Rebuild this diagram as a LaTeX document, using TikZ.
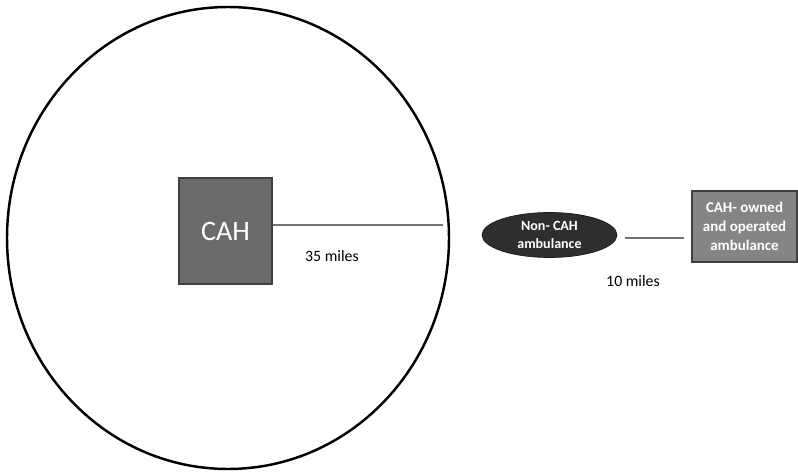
\documentclass[tikz,border=0pt]{standalone}
\usepackage{fontspec}
\setmainfont{Carlito}
\usetikzlibrary{shapes.geometric}

\begin{document}
\begin{tikzpicture}[x=0.02cm,y=-0.02cm,
  hospital/.style={draw=black!75,fill=black!58,line width=1.2pt,minimum width=1.86cm,minimum height=2.12cm,text=white,font=\fontsize{16}{18}\selectfont},
  otheramb/.style={ellipse,fill=black!82,draw=black!90,minimum width=2.7cm,minimum height=0.9cm,inner sep=0pt,text=white,align=center,font=\bfseries\fontsize{8}{10}\selectfont},
  ownamb/.style={draw=black!75,fill=black!48,line width=1pt,minimum width=2.1cm,minimum height=1.42cm,inner sep=1pt,text=white,align=center,font=\bfseries\fontsize{8.5}{10.8}\selectfont},
  milelabel/.style={font=\fontsize{9}{11}\selectfont},
  link/.style={black!55,line width=0.9pt}]

% fix the margins
\useasboundingbox (0,0) rectangle (798,473);

% draw service area
\draw[line width=1.4pt] (228,238) ellipse [x radius=221, y radius=231];

% add nodes
\node[hospital] (cah) at (225.5,231) {CAH};
\coordinate (rim) at (443,225);
\node[otheramb] (noncah) at (549.5,235) {Non- CAH\\ambulance};
\node[ownamb] (owned) at (744.5,226.5) {CAH- owned\\and operated\\ambulance};
\coordinate (n1) at (625,238);
\coordinate (n2) at (684,238);

% draw links
\draw[link] (cah.east |- rim) -- (rim);
\draw[link] (n1) -- (n2);

% add distance labels
\node[milelabel] (d35) at (332,256) {35 miles};
\node[milelabel] (d10) at (633,281) {10 miles};

\end{tikzpicture}
\end{document}
